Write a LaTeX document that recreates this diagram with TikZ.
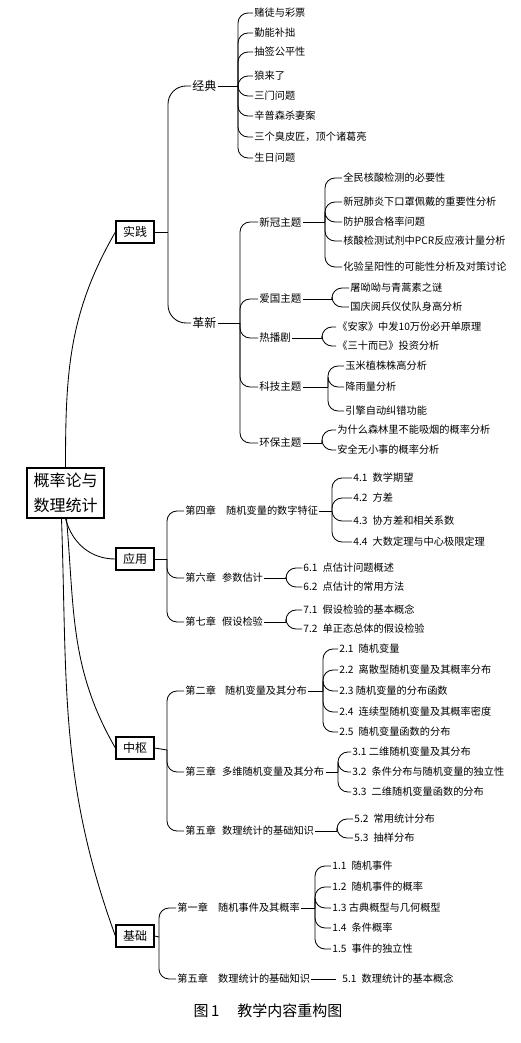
\documentclass[tikz,border=0pt]{standalone}
\usepackage{fontspec}
\newfontfamily\cjk{Noto Sans CJK SC}
\usetikzlibrary{positioning}

\tikzset{
  leaf/.style={anchor=west, inner sep=1pt, font=\cjk\fontsize{10.2}{12}\selectfont},
  topic/.style={leaf, font=\cjk\fontsize{10.5}{12}\selectfont},
  group/.style={leaf, font=\cjk\fontsize{12}{14}\selectfont},
  part/.style={draw, line width=1.2pt, inner sep=2pt, minimum width=38pt,
    minimum height=22pt, font=\cjk\fontsize{12}{14}\selectfont},
  rootbox/.style={draw, line width=1.2pt, align=center, inner sep=4pt,
    minimum width=77pt, minimum height=50pt, font=\cjk\fontsize{16}{25}\selectfont},
  fork/.style={rounded corners=10pt}
}

\newcommand{\fan}[4]{
    % #1 parent node, #2 hub point, #3 leaf x, #4 list of y/text
    \coordinate (#1 hub) at (#2);
    \draw (#1.east) -- (#1 hub);
    \foreach \yy/\txt [count=\ii] in {#4}{
        \node[leaf] (#1\ii) at (#3,\yy) {\txt};
        \draw[fork] (#1 hub) |- (#1\ii.west);
    }
}

\begin{document}
\begin{tikzpicture}[x=1pt, y=-1pt, line width=0.85pt]
    \useasboundingbox (0,0) rectangle (520,1043);

    % Root and the four parts
    \node[rootbox] (root) at (65.5,493) {概率论与\\数理统计};
    \node[part] (sj) at (135,232) {实践};
    \node[part] (yy) at (135,559) {应用};
    \node[part] (zs) at (135,748) {中枢};
    \node[part] (jc) at (135,936) {基础};
    \draw (root.north) to[out=90,in=240] (sj.west);
    \draw (root.south) to[out=-75,in=180] (yy.west);
    \draw ([xshift=1pt]root.south) to[out=-85,in=120] (zs.west);
    \draw ([xshift=-4pt]root.south) to[out=-88,in=110] (jc.west);

    % 实践
    \coordinate (sj hub) at (168,232);
    \node[group] (jd) at (191,86) {经典};
    \node[group] (gx) at (191,323) {革新};
    \draw (sj.east) -- (sj hub);
    \draw[fork, rounded corners=18pt] (sj hub) |- (jd.west);
    \draw[fork, rounded corners=18pt] (sj hub) |- (gx.west);

    \fan{jd}{238,86}{253}{13/赌徒与彩票, 33/勤能补拙, 52/抽签公平性, 76/狼来了,
        96/三门问题, 116/辛普森杀妻案, 137/三个臭皮匠，顶个诸葛亮, 158/生日问题}

    \coordinate (gx hub) at (240,323);
    \draw (gx.east) -- (gx hub);
    \foreach \nn/\yy/\txt in {xg/222/新冠主题, ag/299/爱国主题, rb/338/热播剧,
        kj/387/科技主题, hb/443/环保主题}{
        \node[topic] (\nn) at (258,\yy) {\txt};
        \draw[fork] (gx hub) |- (\nn.west);
    }
    \fan{xg}{325,222}{342}{178/全民核酸检测的必要性, 202/新冠肺炎下口罩佩戴的重要性分析,
        222/防护服合格率问题, 241/核酸检测试剂中PCR反应液计量分析,
        267/化验呈阳性的可能性分析及对策讨论}
    \fan{ag}{332,299}{349}{288/屠呦呦与青蒿素之谜, 307/国庆阅兵仪仗队身高分析}
    \fan{rb}{322,338}{336}{327/《安家》中发10万份必开单原理, 346/《三十而已》投资分析}
    \fan{kj}{328,387}{344}{366/玉米植株株高分析, 387/降雨量分析, 411/引擎自动纠错功能}
    \fan{hb}{322,443}{336}{430/为什么森林里不能吸烟的概率分析, 450/安全无小事的概率分析}

    % 应用
    \coordinate (yy hub) at (167,559);
    \draw (yy.east) -- (yy hub);
    \foreach \nn/\yy/\txt in {ch4/511/{第四章\hspace{1em}随机变量的数字特征},
        ch6/578/{第六章\hspace{.6em}参数估计}, ch7/622/{第七章\hspace{.6em}假设检验}}{
        \node[leaf] (\nn) at (184,\yy) {\txt};
        \draw[fork] (yy hub) |- (\nn.west);
    }
    \fan{ch4}{332,511}{352}{478/{4.1\enspace 数学期望}, 498/{4.2\enspace 方差},
        521/{4.3\enspace 协方差和相关系数}, 542/{4.4\enspace 大数定理与中心极限定理}}
    \fan{ch6}{286,578}{302}{568/{6.1\enspace 点估计问题概述}, 587/{6.2\enspace 点估计的常用方法}}
    \fan{ch7}{286,622}{302}{610/{7.1\enspace 假设检验的基本概念}, 629/{7.2\enspace 单正态总体的假设检验}}

    % 中枢
    \coordinate (zs hub) at (167,750);
    \draw (zs.east) -- (zs hub);
    \foreach \nn/\yy/\txt in {ch2/691/{第二章\hspace{.9em}随机变量及其分布},
        ch3/772/{第三章\hspace{.6em}多维随机变量及其分布},
        ch5a/831/{第五章\hspace{.6em}数理统计的基础知识}}{
        \node[leaf] (\nn) at (184,\yy) {\txt};
        \draw[fork] (zs hub) |- (\nn.west);
    }
    \fan{ch2}{323,691}{338}{649/{2.1\enspace 随机变量}, 670/{2.2\enspace 离散型随机变量及其概率分布},
        691/{2.3 随机变量的分布函数}, 712/{2.4\enspace 连续型随机变量及其概率密度},
        732/{2.5\enspace 随机变量函数的分布}}
    \fan{ch3}{338,772}{351}{752/{3.1 二维随机变量及其分布}, 772/{3.2\enspace 条件分布与随机变量的独立性},
        792/{3.3\enspace 二维随机变量函数的分布}}
    \fan{ch5a}{337,831}{353}{819/{5.2\enspace 常用统计分布}, 838/{5.3\enspace 抽样分布}}

    % 基础
    \coordinate (jc hub) at (159,937);
    \draw (jc.east) -- (jc hub);
    \foreach \nn/\yy/\txt in {ch1/908/{第一章\hspace{1em}随机事件及其概率},
        ch5b/979/{第五章\hspace{1em}数理统计的基础知识}}{
        \node[leaf] (\nn) at (176,\yy) {\txt};
        \draw[fork] (jc hub) |- (\nn.west);
    }
    \fan{ch1}{315,908}{331}{866/{1.1\enspace 随机事件}, 887/{1.2\enspace 随机事件的概率},
        908/{1.3 古典概型与几何概型}, 928/{1.4\enspace 条件概率}, 949/{1.5\enspace 事件的独立性}}
    \node[leaf] (ch5b1) at (341,979) {5.1\enspace 数理统计的基本概念};
    \draw[shorten >=5pt] (ch5b.east) -- (ch5b1.west);

    % Caption
    \node[font=\cjk\fontsize{15}{18}\selectfont] (cap) at (268,1011) {图\,1\hspace{1.2em}教学内容重构图};
\end{tikzpicture}
\end{document}
